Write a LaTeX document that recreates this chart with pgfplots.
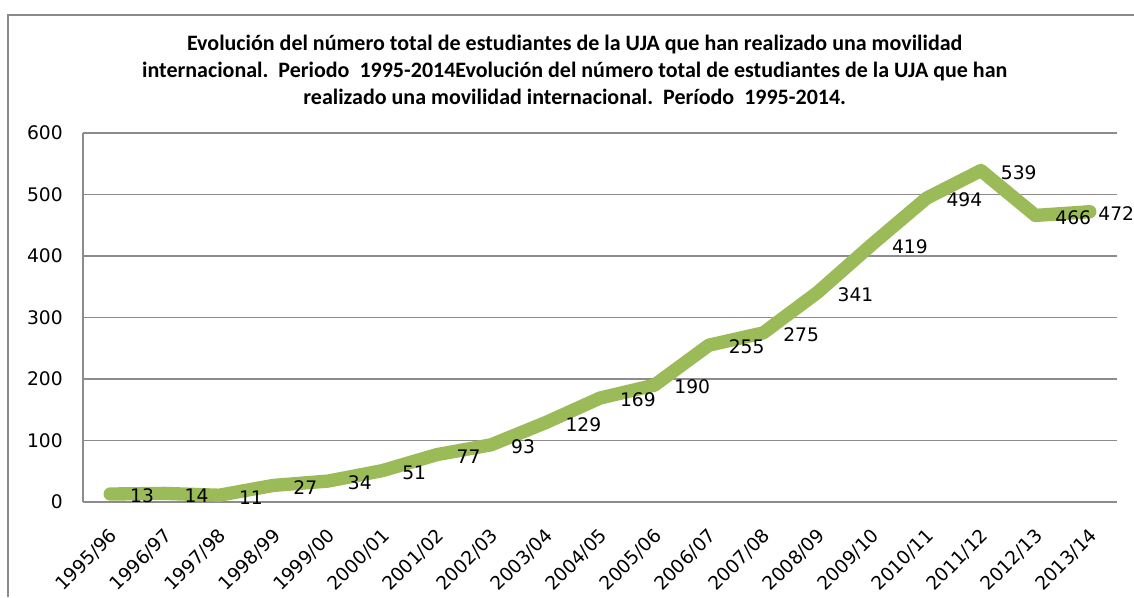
\documentclass[border=0pt]{standalone}
\usepackage{pgfplots}
\pgfplotsset{compat=1.18}
\usepackage{pgfplotstable}
\usepackage{fontspec}
\setmainfont{DejaVu Sans}
\newfontfamily\titlefont{Carlito}
\definecolor{linegreen}{HTML}{9BBB59}
\definecolor{gridgray}{HTML}{8C8C8C}
\definecolor{framegray}{HTML}{8A8A8A}

\pgfplotstableread{
x y dx
0 13 10
1 14 10
2 11 10
3 27 10
4 34 10
5 51 10
6 77 10
7 93 10
8 129 10
9 169 10
10 190 10
11 255 10
12 275 10
13 341 10
14 419 10
15 494 10
16 539 10
17 466 10
18 472 1.5
}\datatable

\begin{document}
\begin{tikzpicture}
\useasboundingbox (0,0) rectangle (850.5pt,447.75pt);
\draw[framegray, line width=1.2pt] (6pt,0) -- (6pt,436.5pt) -- (850.5pt,436.5pt);
\node[align=center, font=\titlefont\bfseries\fontsize{16.5}{20.25}\selectfont, inner sep=0pt] at (431pt,395.25pt)
{Evolución del número total de estudiantes de la UJA que han realizado una movilidad\\
internacional.\ \ Periodo\ \ 1995-2014Evolución del número total de estudiantes de la UJA que han\\
realizado una movilidad internacional.\ \ Período\ \ 1995-2014.};
\begin{axis}[
  at={(62.25pt,71.25pt)}, anchor=south west,
  scale only axis, width=775.5pt, height=276.75pt,
  xmin=-0.5, xmax=18.5, ymin=0, ymax=600,
  ytick={0,100,...,600},
  xtick={0,...,18},
  xticklabels={1995/96,1996/97,1997/98,1998/99,1999/00,2000/01,2001/02,2002/03,2003/04,2004/05,2005/06,2006/07,2007/08,2008/09,2009/10,2010/11,2011/12,2012/13,2013/14},
  axis x line*=bottom, axis y line*=left,
  axis line style={gridgray, line width=1pt, -},
  ymajorgrids, major grid style={gridgray, line width=1pt},
  major tick length=0pt,
  tick label style={font=\fontsize{14}{16}\selectfont, black},
  /pgf/number format/assume math mode=true,
  yticklabel style={anchor=east, inner sep=0pt, xshift=-15pt},
  xticklabel style={inner sep=0pt, xshift=3pt, yshift=-23pt, rotate=45, anchor=east},
  clip=false,
]
\addplot[linegreen, line width=10pt, line cap=round, line join=round,
  nodes near coords,
  visualization depends on={\thisrow{dx} \as \dx},
  every node near coord/.append style={anchor=west, inner sep=0pt, xshift=\dx pt, yshift=-1.5pt, black, font=\fontsize{14}{16}\selectfont},
] table[x=x, y=y] {\datatable};
\end{axis}
\end{tikzpicture}
\end{document}
